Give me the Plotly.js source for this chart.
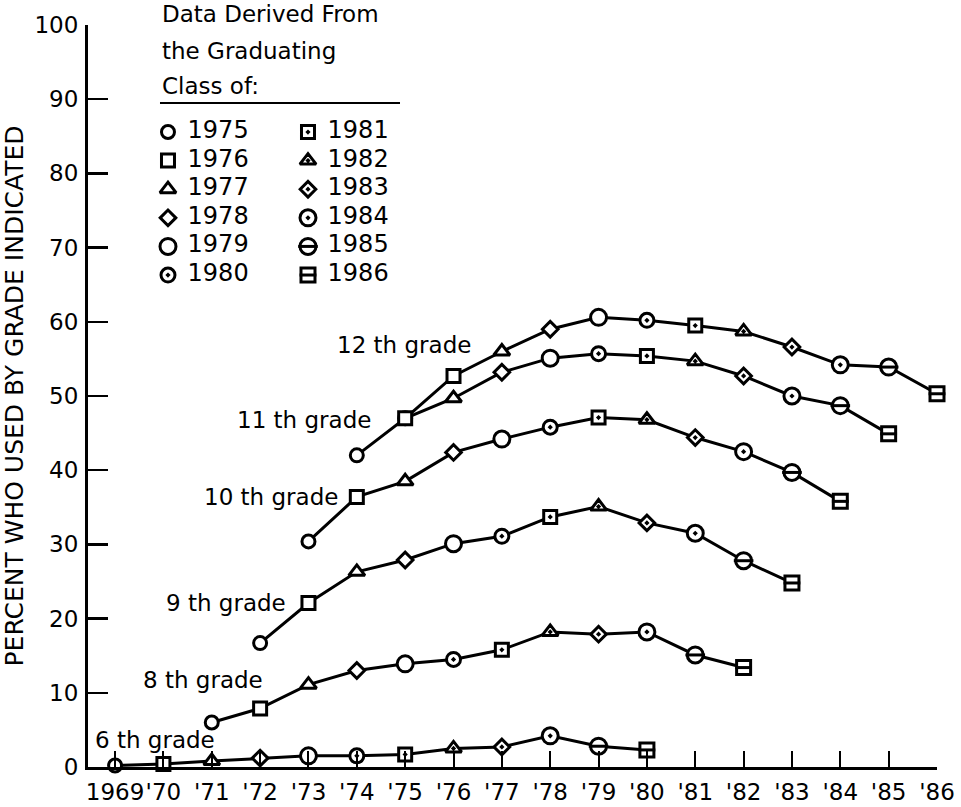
<!DOCTYPE html>
<html><head><meta charset="utf-8">
<script src="https://cdn.plot.ly/plotly-3.0.1.min.js"></script>
<style>html,body{margin:0;padding:0;background:#fff}#chart{width:961px;height:807px}</style>
</head><body><div id="chart"></div>
<script>
// ---- data ----
const classOf = [1975,1976,1977,1978,1979,1980,1981,1982,1983,1984,1985,1986];

const years12 = [1975,1976,1977,1978,1979,1980,1981,1982,1983,1984,1985,1986];
const grade12 = [47.0,52.7,56.0,59.0,60.6,60.2,59.5,58.7,56.6,54.2,53.9,50.3];

const years11 = [1974,1975,1976,1977,1978,1979,1980,1981,1982,1983,1984,1985];
const grade11 = [42.0,47.0,49.7,53.2,55.1,55.7,55.4,54.7,52.7,50.0,48.7,44.9];

const years10 = [1973,1974,1975,1976,1977,1978,1979,1980,1981,1982,1983,1984];
const grade10 = [30.4,36.4,38.5,42.4,44.2,45.8,47.1,46.8,44.4,42.5,39.7,35.8];

const years9 = [1972,1973,1974,1975,1976,1977,1978,1979,1980,1981,1982,1983];
const grade9 = [16.7,22.1,26.3,27.9,30.1,31.1,33.7,35.1,32.9,31.5,27.8,24.8];

const years8 = [1971,1972,1973,1974,1975,1976,1977,1978,1979,1980,1981,1982];
const grade8 = [6.0,7.9,11.1,13.0,13.9,14.5,15.8,18.2,17.9,18.2,15.1,13.4];

const years6 = [1969,1970,1971,1972,1973,1974,1975,1976,1977,1978,1979,1980];
const grade6 = [0.2,0.4,0.8,1.2,1.5,1.5,1.7,2.5,2.7,4.2,2.8,2.3];

const gradeLabels = ['12 th grade','11 th grade','10 th grade','9 th grade','8 th grade','6 th grade'];
const labelX = [1976.40,1974.34,1973.65,1972.58,1972.10,1971.11];
const labelY = [56.9,46.8,36.4,22.1,11.7,3.6];

const xTickVals = [1969,1970,1971,1972,1973,1974,1975,1976,1977,1978,1979,1980,1981,1982,1983,1984,1985,1986];
const xTickText = ['1969',"'70","'71","'72","'73","'74","'75","'76","'77","'78","'79","'80","'81","'82","'83","'84","'85","'86"];
const yTickVals = [0,10,20,30,40,50,60,70,80,90,100];

const headerLines = ['Data Derived From','the Graduating','Class of:'];

// ---- marker style per graduating class ----
const symbolOf = {1975:'circle',1976:'square',1977:'triangle-up',1978:'diamond',1979:'circle',
  1980:'circle-dot',1981:'square-dot',1982:'triangle-up-dot',1983:'diamond-dot',1984:'circle-dot',
  1985:'circle',1986:'square'};
const sizeOf = {1975:13,1976:13,1977:14,1978:12,1979:16,1980:14,1981:13,1982:14,1983:12,1984:16,1985:16,1986:14};
const barred = {1985:true,1986:true};

const INK = '#000';
const FONT = 'DejaVu Sans, Liberation Sans, sans-serif';
const MW = 3;

const grades = [[years12,grade12],[years11,grade11],[years10,grade10],[years9,grade9],[years8,grade8],[years6,grade6]];
const traces = [];
grades.forEach(([xs,ys]) => {
  traces.push({
    x: xs, y: ys, type:'scatter', mode:'lines+markers', showlegend:false, cliponaxis:false,
    line:{color:INK,width:3},
    marker:{symbol: classOf.map(c=>symbolOf[c]), size: classOf.map(c=>sizeOf[c]),
            color:'white', opacity:1, line:{color:INK,width:MW}},
    hoverinfo:'x+y'
  });
  const bx=[], by=[], bs=[];
  classOf.forEach((c,i)=>{ if(barred[c]){ bx.push(xs[i]); by.push(ys[i]); bs.push(sizeOf[c]-2); } });
  traces.push({x:bx,y:by,type:'scatter',mode:'markers',showlegend:false,cliponaxis:false,
    marker:{symbol:'line-ew',size:bs,color:INK,opacity:1,line:{color:INK,width:MW}},hoverinfo:'skip'});
});

// ---- key (two columns) on a hidden overlay axis ----
const keyCol = classOf.map((c,i)=>Math.floor(i/6));
const keyRow = classOf.map((c,i)=>i%6);
traces.push({x:keyCol,y:keyRow,xaxis:'x2',yaxis:'y2',type:'scatter',mode:'markers',showlegend:false,cliponaxis:false,
  marker:{symbol:classOf.map(c=>symbolOf[c]),size:classOf.map(c=>sizeOf[c]),color:'white',opacity:1,line:{color:INK,width:MW}},hoverinfo:'skip'});
const kbx=[],kby=[],kbs=[];
classOf.forEach((c,i)=>{ if(barred[c]){ kbx.push(keyCol[i]); kby.push(keyRow[i]); kbs.push(sizeOf[c]-2); } });
traces.push({x:kbx,y:kby,xaxis:'x2',yaxis:'y2',type:'scatter',mode:'markers',showlegend:false,cliponaxis:false,
  marker:{symbol:'line-ew',size:kbs,color:INK,opacity:1,line:{color:INK,width:MW}},hoverinfo:'skip'});
traces.push({x:keyCol.map(c=>c+0.14),y:keyRow,xaxis:'x2',yaxis:'y2',type:'scatter',mode:'text',showlegend:false,cliponaxis:false,
  text:classOf.map(String),textposition:'middle right',textfont:{family:FONT,size:24,color:INK},hoverinfo:'skip'});

const annotations = [];
gradeLabels.forEach((t,i)=>annotations.push({text:t,x:labelX[i],y:labelY[i],xref:'x',yref:'y',
  xanchor:'right',yanchor:'middle',showarrow:false,font:{family:FONT,size:23,color:INK}}));
const headerY = [1.0148,0.9650,0.9178];
headerLines.forEach((t,i)=>annotations.push({text:t,x:0.0848,y:headerY[i],xref:'paper',yref:'paper',
  xanchor:'left',yanchor:'middle',showarrow:false,font:{family:FONT,size:23,color:INK}}));

const layout = {
  width:961,height:807,
  margin:{l:88,r:24,t:25,b:40},
  paper_bgcolor:'white',plot_bgcolor:'white',
  font:{family:FONT,color:INK},
  showlegend:false,
  xaxis:{range:[1968.44,1986.0],tickvals:xTickVals,ticktext:xTickText,ticks:'inside',ticklen:16,tickwidth:2,
    tickcolor:INK,showline:true,linewidth:3,linecolor:INK,showgrid:false,zeroline:false,tickangle:0,
    tickfont:{family:FONT,size:23,color:INK},ticklabelstandoff:2,fixedrange:true},
  yaxis:{range:[0,100],tickvals:yTickVals,ticks:'inside',ticklen:20,tickwidth:2.5,tickcolor:INK,
    showline:true,linewidth:3,linecolor:INK,showgrid:false,zeroline:false,
    tickfont:{family:FONT,size:23,color:INK},ticklabelstandoff:2,
    title:{text:'PERCENT WHO USED BY GRADE INDICATED',font:{family:FONT,size:25,color:INK},standoff:4},fixedrange:true},
  xaxis2:{overlaying:'x',anchor:'y2',visible:false,range:[-0.5714,5.493],fixedrange:true},
  yaxis2:{overlaying:'y',anchor:'x2',visible:false,range:[22.2,-3.741],fixedrange:true},
  annotations:annotations,
  shapes:[{type:'line',xref:'paper',yref:'paper',x0:0.0848,x1:0.3675,y0:0.8949,y1:0.8949,line:{color:INK,width:2}}]
};

Plotly.newPlot('chart',traces,layout,{displayModeBar:false,staticPlot:true});
</script></body></html>
